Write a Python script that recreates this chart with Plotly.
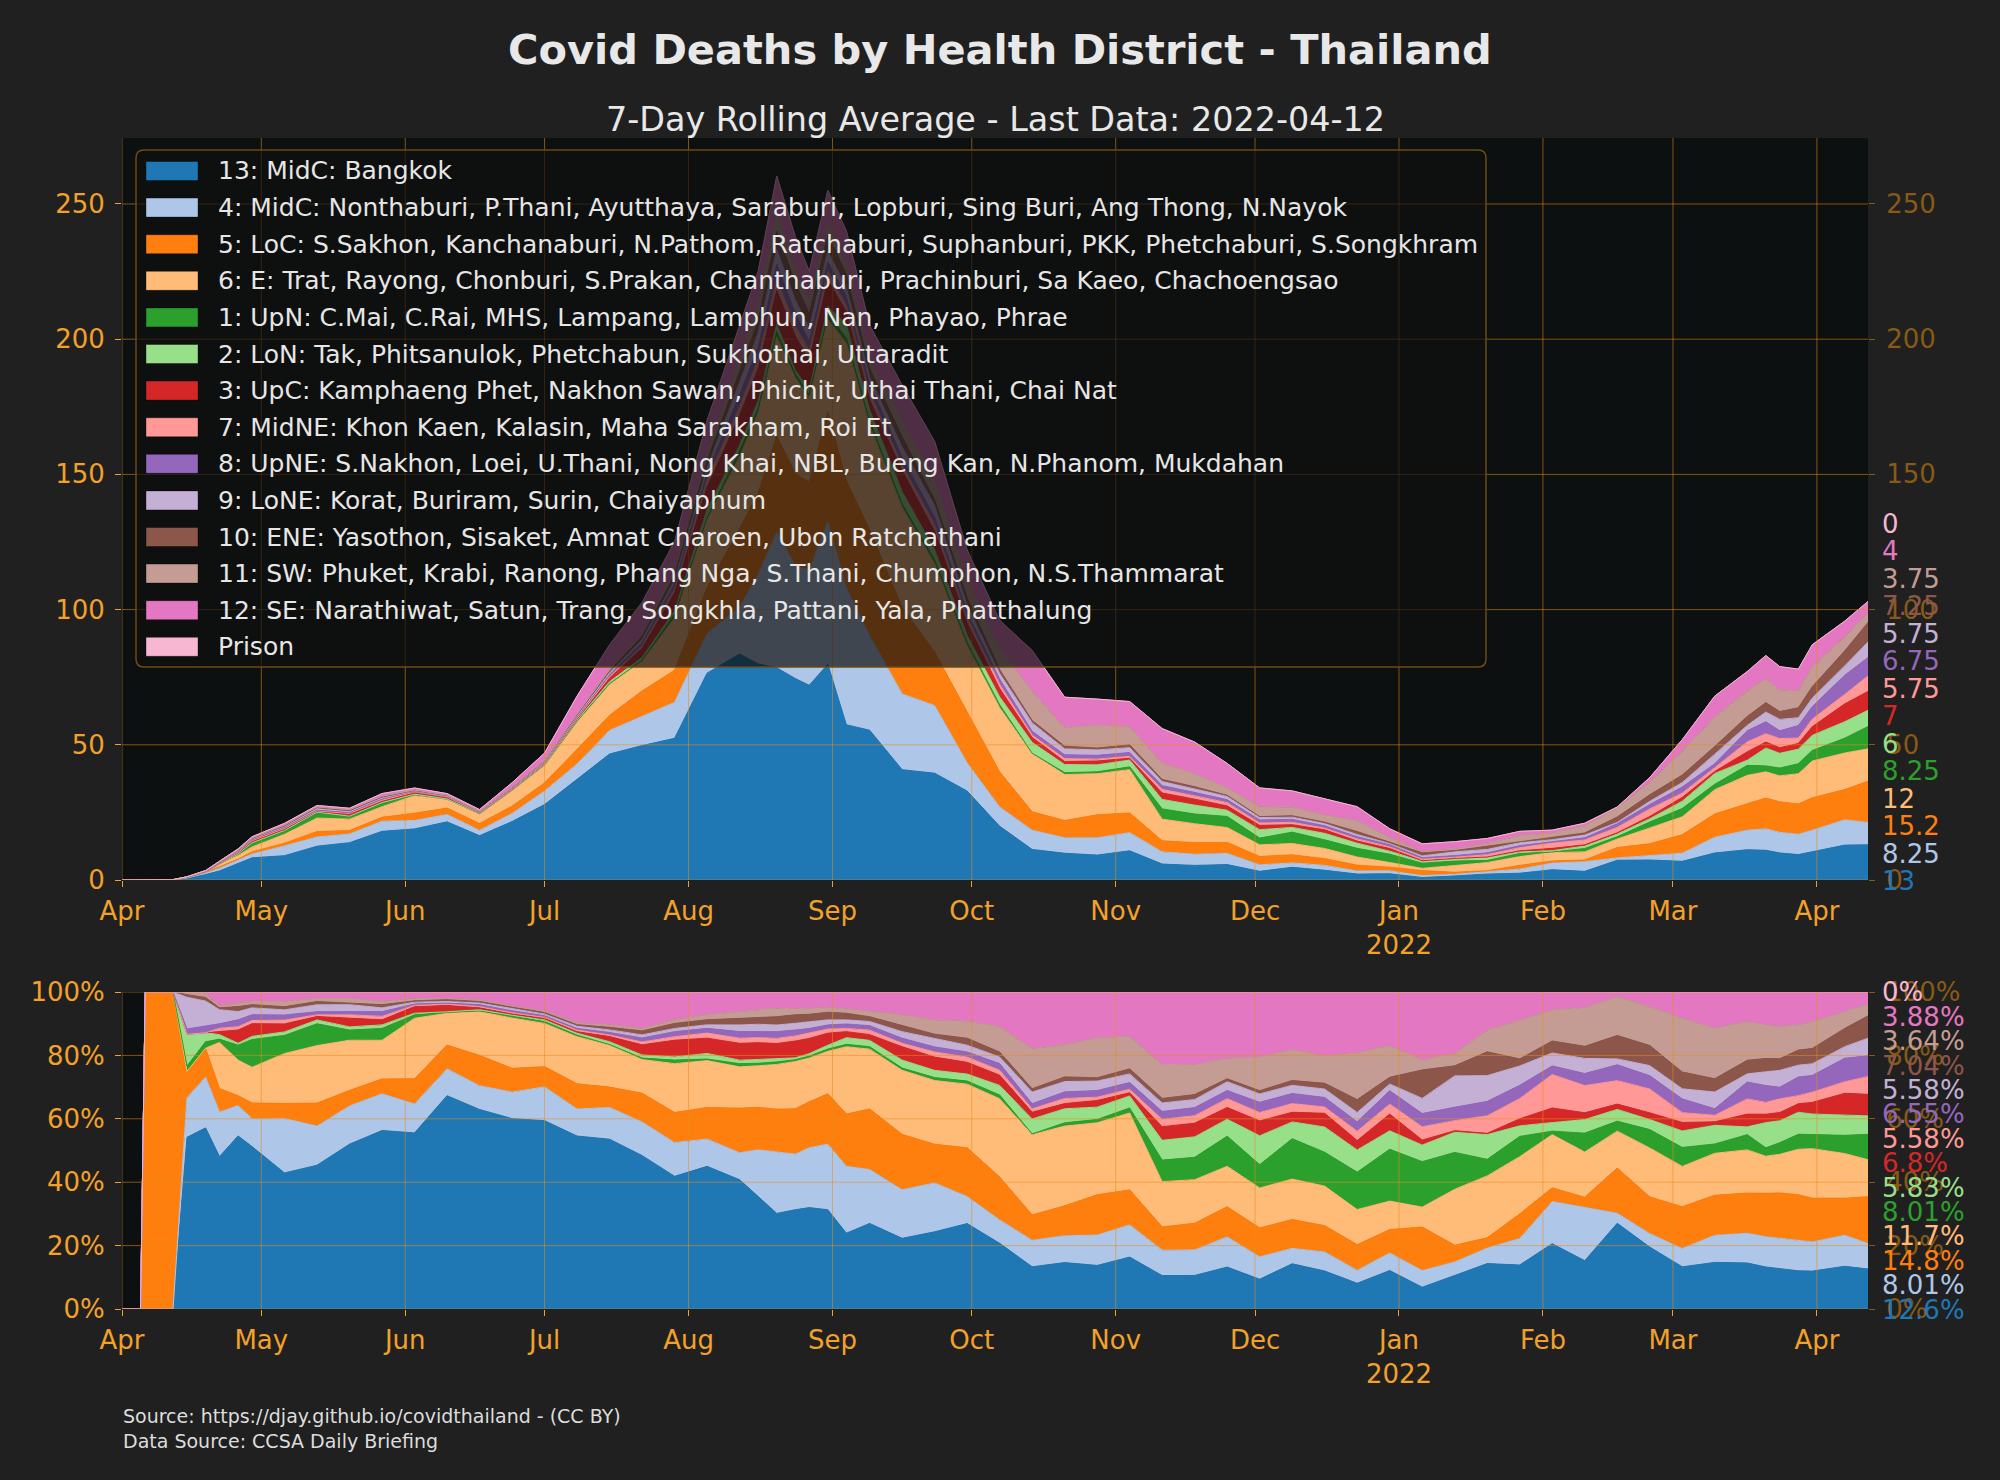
import plotly.graph_objects as go

# ---------------- data ----------------
dates = [
    "2021-04-01", "2021-04-05", "2021-04-06", "2021-04-12", "2021-04-15", "2021-04-19",
    "2021-04-22", "2021-04-26", "2021-04-29", "2021-05-06", "2021-05-13", "2021-05-20",
    "2021-05-27", "2021-06-03", "2021-06-10", "2021-06-17", "2021-06-24", "2021-07-01",
    "2021-07-08", "2021-07-15", "2021-07-22", "2021-07-29", "2021-08-05", "2021-08-12",
    "2021-08-16", "2021-08-20", "2021-08-24", "2021-08-27", "2021-08-31", "2021-09-04",
    "2021-09-09", "2021-09-16", "2021-09-23", "2021-09-30", "2021-10-07", "2021-10-14",
    "2021-10-21", "2021-10-28", "2021-11-04", "2021-11-11", "2021-11-18", "2021-11-25",
    "2021-12-02", "2021-12-09", "2021-12-16", "2021-12-23", "2021-12-30", "2022-01-06",
    "2022-01-13", "2022-01-20", "2022-01-27", "2022-02-03", "2022-02-10", "2022-02-17",
    "2022-02-24", "2022-03-03", "2022-03-10", "2022-03-17", "2022-03-21", "2022-03-24",
    "2022-03-28", "2022-03-31", "2022-04-07", "2022-04-12",
]

names = [
    "13: MidC: Bangkok",
    "4: MidC: Nonthaburi, P.Thani, Ayutthaya, Saraburi, Lopburi, Sing Buri, Ang Thong, N.Nayok",
    "5: LoC: S.Sakhon, Kanchanaburi, N.Pathom, Ratchaburi, Suphanburi, PKK, Phetchaburi, S.Songkhram",
    "6: E: Trat, Rayong, Chonburi, S.Prakan, Chanthaburi, Prachinburi, Sa Kaeo, Chachoengsao",
    "1: UpN: C.Mai, C.Rai, MHS, Lampang, Lamphun, Nan, Phayao, Phrae",
    "2: LoN: Tak, Phitsanulok, Phetchabun, Sukhothai, Uttaradit",
    "3: UpC: Kamphaeng Phet, Nakhon Sawan, Phichit, Uthai Thani, Chai Nat",
    "7: MidNE: Khon Kaen, Kalasin, Maha Sarakham, Roi Et",
    "8: UpNE: S.Nakhon, Loei, U.Thani, Nong Khai, NBL, Bueng Kan, N.Phanom, Mukdahan",
    "9: LoNE: Korat, Buriram, Surin, Chaiyaphum",
    "10: ENE: Yasothon, Sisaket, Amnat Charoen, Ubon Ratchathani",
    "11: SW: Phuket, Krabi, Ranong, Phang Nga, S.Thani, Chumphon, N.S.Thammarat",
    "12: SE: Narathiwat, Satun, Trang, Songkhla, Pattani, Yala, Phatthalung",
    "Prison",
]

colors = ["#1f77b4", "#aec7e8", "#ff7f0e", "#ffbb78", "#2ca02c", "#98df8a", "#d62728",
          "#ff9896", "#9467bd", "#c5b0d5", "#8c564b", "#c49c94", "#e377c2", "#f7b6d2"]

bangkok = [0, 0, 0, 0, 0.65, 2.0, 3.36, 6.28, 8.2, 9.0, 12.5, 13.8, 18.0, 18.9, 21.5, 16.4,
           21.6, 27.9, 37.1, 46.6, 49.7, 52.4, 76.5, 83.6, 79.9, 78.5, 74.5, 72.0, 79.8, 57.4,
           55.4, 40.8, 39.5, 32.9, 19.9, 11.3, 9.9, 9.2, 10.8, 5.9, 5.4, 5.7, 3.2, 4.7, 3.6,
           2.2, 2.3, 0.92, 1.5, 2.2, 2.5, 3.8, 3.2, 7.3, 7.4, 6.9, 10.0, 11.2, 11.0, 10.0,
           9.4, 10.4, 12.9, 13.0]
nonthaburi = [0, 0, 0, 0, 0.15, 0.56, 0.98, 1.1, 1.4, 3.6, 3.4, 3.2, 3.7, 3.1, 2.7, 1.95,
              3.0, 5.0, 5.8, 8.7, 10.9, 13.3, 14.6, 17.4, 33.1, 50.2, 41.7, 42.5, 52.8, 50.6,
              34.9, 28.0, 25.0, 10.4, 7.1, 7.1, 5.7, 6.4, 6.7, 4.5, 4.1, 4.1, 2.4, 1.6, 1.8,
              1.1, 1.05, 0.7, 0.6, 0.75, 1.5, 2.45, 3.55, 0.85, 1.6, 3.0, 5.8, 7.2, 7.9, 7.6,
              7.5, 8.0, 9.35, 8.25]
lower_central = [0, 0, 0.15, 0.15, 0.1, 0.32, 0.52, 0.36, 0.8, 1.0, 2.0, 1.3, 1.5, 2.7, 2.4,
                 2.5, 2.7, 3.0, 5.4, 5.6, 9.3, 11.9, 17.0, 28.9, 30.2, 35.4, 34.0, 32.6, 40.5,
                 39.6, 39.2, 32.0, 19.8, 18.8, 13.0, 6.8, 6.4, 8.5, 7.3, 4.1, 4.3, 4.1, 3.1,
                 3.0, 2.5, 2.2, 1.4, 1.84, 0.75, 0.5, 1.4, 0.8, 0.65, 3.85, 4.4, 6.85, 8.6, 9.8,
                 11.4, 11.3, 11.2, 12.0, 11.2, 15.25]
east = [0, 0, 0, 0, 0, 0, 1.02, 1.29, 1.8, 3.3, 5.0, 4.2, 3.9, 6.5, 3.2, 3.6, 5.7, 6.4, 10.1,
        11.5, 10.9, 19.3, 25.1, 26.7, 29.5, 36.7, 35.5, 31.1, 34.2, 50.9, 38.7, 37.0, 32.6,
        24.5, 23.7, 21.5, 17.0, 15.2, 16.0, 8.0, 7.0, 5.5, 4.3, 4.2, 3.75, 3.0, 1.7, 0.84,
        2.5, 3.0, 3.25, 3.1, 3.0, 3.15, 5.85, 6.6, 9.0, 10.5, 9.7, 9.6, 11.2, 13.6, 13.5, 12.0]
upper_north = [0, 0, 0, 0, 0.02, 0.07, 0.07, 0.54, 1.4, 1.2, 1.9, 0.85, 1.2, 0.37, 0.1, 0.05,
               0.22, 0.28, 0.34, 0.17, 0.5, 1.4, 0.85, 2.05, 1.8, 2.1, 1.4, 1.35, 1.8, 1.9,
               1.6, 1.3, 1.5, 1.2, 1.15, 0.2, 0.7, 0.7, 1.05, 3.8, 3.6, 4.1, 2.5, 4.2, 3.2,
               3.2, 3.1, 1.92, 1.65, 0.8, 1.15, 0.2, 1.25, 0.85, 2.2, 3.1, 2.0, 3.7, 2.2, 2.9,
               3.7, 3.9, 5.5, 8.25]
lower_north = [0, 0, 0, 0, 0.12, 0.1, 0.1, 0.07, 0.16, 0.23, 0.33, 0.27, 0.35, 0.17, 0.06,
               0.1, 0.11, 0.24, 0.41, 0.78, 1.0, 1.25, 3.0, 2.25, 2.7, 2.6, 1.4, 1.8, 3.1,
               5.0, 4.1, 4.6, 3.7, 2.7, 2.9, 4.0, 3.0, 2.6, 2.5, 3.5, 3.3, 2.3, 3.1, 1.75,
               2.4, 1.9, 1.1, 0.7, 0.9, 1.2, 0.6, 0.5, 0.9, 1.0, 1.2, 2.7, 4.0, 1.9, 6.6,
               5.45, 5.4, 5.6, 6.1, 6.0]
upper_central = [0, 0, 0, 0, 0, 0, 0.07, 0.48, 0.64, 0.53, 0.3, 0.72, 0.51, 0.71, 0.64, 0.16,
                 0.14, 0.24, 0.34, 1.4, 3.3, 6.6, 8.2, 10.9, 11.9, 12.5, 12.6, 10.8, 9.7,
                 4.6, 3.7, 7.7, 6.8, 4.5, 3.1, 1.8, 1.1, 1.4, 0.66, 2.4, 2.2, 1.6, 1.6, 1.0,
                 1.3, 0.8, 1.0, 0.21, 0.07, 0.06, 0.4, 0.85, 0.45, 0.45, 0.8, 1.4, 0.75, 3.1,
                 2.2, 2.05, 2.1, 3.2, 6.6, 7.0]
mid_ne = [0, 0, 0, 0, 0, 0, 0.07, 0.12, 0.16, 0.25, 0.14, 0.29, 0.35, 0.14, 0.13, 0.1, 0.14,
          0.14, 0.34, 0.44, 0.9, 1.4, 2.7, 3.3, 3.6, 4.2, 3.8, 3.6, 3.3, 2.4, 2.9, 2.0, 2.6,
          2.0, 1.5, 0.9, 1.1, 0.7, 0.73, 1.3, 1.2, 1.2, 0.9, 0.9, 0.6, 0.8, 0.6, 0.56, 0.45,
          0.85, 1.15, 1.95, 1.8, 2.0, 2.85, 1.6, 1.4, 3.7, 3.1, 3.4, 2.0, 2.8, 3.5, 5.75]
upper_ne = [0, 0, 0, 0, 0.02, 0.07, 0.1, 0.25, 0.29, 0.34, 0.28, 0.27, 0.48, 0.14, 0.1, 0.16,
            0.22, 0.24, 0.34, 0.7, 1.3, 2.0, 2.55, 4.3, 4.3, 5.5, 4.5, 3.4, 3.3, 3.4, 2.9,
            2.9, 2.6, 2.0, 2.0, 1.4, 1.4, 1.4, 1.4, 1.4, 1.3, 1.1, 1.1, 1.05, 0.9, 0.8, 0.8,
            0.56, 0.6, 0.7, 0.75, 0.5, 0.8, 1.35, 1.6, 2.25, 1.4, 4.1, 4.4, 2.9, 4.6, 4.6,
            7.1, 6.75]
lower_ne = [0, 0, 0, 0, 0.12, 0.28, 0.31, 0.3, 0.35, 0.34, 0.6, 0.58, 0.38, 0.2, 0.16, 0.13,
            0.25, 0.24, 0.48, 0.7, 1.0, 1.25, 1.9, 4.3, 5.2, 5.5, 5.0, 4.95, 4.1, 3.1, 2.7,
            3.8, 4.4, 2.6, 2.0, 3.1, 2.2, 2.0, 1.8, 1.5, 1.3, 1.2, 0.9, 0.85, 0.8, 0.8, 0.4,
            0.64, 1.4, 1.25, 1.1, 0.75, 1.0, 0.5, 1.2, 1.65, 3.6, 2.0, 3.6, 4.2, 2.9, 3.2,
            3.5, 5.75]
east_ne = [0, 0, 0, 0, 0.01, 0.04, 0.04, 0.18, 0.16, 0.21, 0.28, 0.13, 0.32, 0.14, 0.19, 0.13,
           0.14, 0.24, 0.34, 0.7, 1.3, 2.0, 2.7, 4.3, 4.7, 6.8, 6.4, 5.2, 6.1, 5.0, 3.1, 3.8,
           2.1, 2.7, 1.5, 0.9, 1.0, 0.7, 1.05, 0.8, 0.8, 0.4, 0.35, 0.5, 0.55, 1.1, 0.4, 1.2,
           0.45, 1.15, 0.4, 0.7, 0.8, 2.0, 2.4, 2.75, 2.85, 3.3, 3.5, 2.9, 3.7, 4.2, 5.5, 7.25]
south_west = [0, 0, 0, 0, 0.01, 0.04, 0.04, 0.13, 0.16, 0.34, 0.28, 0.4, 0.32, 0.24, 0.13,
              0.16, 0.14, 0.24, 0.41, 0.7, 0.8, 1.4, 2.7, 4.3, 5.6, 7.0, 4.5, 4.3, 3.8, 3.4,
              3.3, 5.9, 7.3, 6.5, 7.7, 10.8, 6.8, 8.5, 6.7, 6.0, 4.8, 2.8, 3.6, 3.2, 2.6, 4.0,
              1.9, 0.43, 0.55, 1.05, 2.2, 1.8, 2.55, 3.3, 4.65, 8.8, 10.8, 9.4, 8.8, 8.0, 6.2,
              7.4, 5.1, 3.75]
south_east = [0, 0, 0, 0, 0, 0.02, 0.31, 0.4, 0.48, 0.63, 0.55, 0.53, 0.96, 0.71, 0.64, 0.62,
              1.6, 2.8, 6.6, 9.0, 11.8, 11.0, 12.2, 12.7, 12.6, 13.3, 12.6, 11.5, 12.5, 12.7,
              12.7, 13.2, 14.3, 11.3, 10.5, 15.1, 11.3, 9.6, 9.3, 12.8, 11.7, 9.0, 7.0, 6.0,
              6.05, 5.2, 3.2, 2.86, 2.75, 1.85, 1.6, 1.05, 1.05, 0.4, 1.75, 4.3, 7.8, 7.2,
              8.6, 8.6, 8.1, 8.1, 5.9, 4.0]
prison = [0] * len(dates)

series = [bangkok, nonthaburi, lower_central, east, upper_north, lower_north, upper_central,
          mid_ne, upper_ne, lower_ne, east_ne, south_west, south_east, prison]

month_ticks = ["2021-04-01", "2021-05-01", "2021-06-01", "2021-07-01", "2021-08-01",
               "2021-09-01", "2021-10-01", "2021-11-01", "2021-12-01", "2022-01-01",
               "2022-02-01", "2022-03-01", "2022-04-01"]
month_labels = ["Apr", "May", "Jun", "Jul", "Aug", "Sep", "Oct", "Nov", "Dec",
                "Jan<br>2022", "Feb", "Mar", "Apr"]
top_ticks = [0, 50, 100, 150, 200, 250]
pct_ticks = [0, 20, 40, 60, 80, 100]
pct_labels = ["0%", "20%", "40%", "60%", "80%", "100%"]

title = "Covid Deaths by Health District - Thailand"
subtitle = "7-Day Rolling Average - Last Data: 2022-04-12"
source = "Source: https://djay.github.io/covidthailand - (CC BY)<br>Data Source: CCSA Daily Briefing"

# ---------------- style / layout ----------------
W, H = 2000, 1480
FONT = "DejaVu Sans"
ORANGE = "#f2a12a"
BROWN = "#875a16"
TEXT = "#e6e6e6"
GRID = "rgba(232,140,30,0.55)"
PAPER_BG = "#202020"
PLOT_BG = "#0c1010"

PL, PR = 122, 1868          # plot left/right (px)
TT, TB = 138, 880           # top chart top/bottom (px)
BT, BB = 992, 1309          # bottom chart top/bottom (px)
TOP_MAX = 274.4


def fx(px):
    return px / W


def fy(py):
    return 1 - py / H


fig = go.Figure()

for name, col, vals in zip(names, colors, series):
    fig.add_trace(go.Scatter(
        x=dates, y=vals, name=name, mode="lines", stackgroup="abs",
        line=dict(color=col, width=1), fillcolor=col,
        xaxis="x", yaxis="y", showlegend=False, hoverinfo="skip"))

for name, col, vals in zip(names, colors, series):
    fig.add_trace(go.Scatter(
        x=dates, y=vals, name=name, mode="lines", stackgroup="pct", groupnorm="percent",
        line=dict(color=col, width=1), fillcolor=col,
        xaxis="x2", yaxis="y3", showlegend=False, hoverinfo="skip"))

# invisible carriers so the mirrored right-hand axes are drawn
fig.add_trace(go.Scatter(x=dates, y=prison, xaxis="x", yaxis="y2", mode="lines",
                         line=dict(width=0), opacity=0, showlegend=False, hoverinfo="skip"))
fig.add_trace(go.Scatter(x=dates, y=prison, xaxis="x2", yaxis="y4", mode="lines",
                         line=dict(width=0), opacity=0, showlegend=False, hoverinfo="skip"))

tick_common = dict(showgrid=False, zeroline=False, showline=False, ticks="outside",
                   ticklen=6, tickwidth=1.2, automargin=False)
left_font = dict(family=FONT, size=26, color=ORANGE)
right_font = dict(family=FONT, size=26, color=BROWN)

xaxis_common = dict(range=[dates[0], dates[-1]], tickmode="array", tickvals=month_ticks,
                    ticktext=month_labels, tickfont=left_font, tickcolor=ORANGE,
                    ticklabelstandoff=2, **tick_common)

fig.update_layout(
    width=W, height=H, autosize=False,
    margin=dict(l=0, r=0, t=0, b=0, pad=0),
    paper_bgcolor=PAPER_BG, plot_bgcolor=PLOT_BG,
    font=dict(family=FONT, color=TEXT),
    showlegend=False,
    xaxis=dict(domain=[fx(PL), fx(PR)], anchor="y", **xaxis_common),
    xaxis2=dict(domain=[fx(PL), fx(PR)], anchor="y3", **xaxis_common),
    yaxis=dict(domain=[fy(TB), fy(TT)], anchor="x", range=[0, TOP_MAX], tickmode="array",
               tickvals=top_ticks, tickfont=left_font, tickcolor=ORANGE,
               ticklabelstandoff=5, **tick_common),
    yaxis2=dict(overlaying="y", side="right", anchor="x", range=[0, TOP_MAX],
                tickmode="array", tickvals=top_ticks, tickfont=right_font, tickcolor=BROWN,
                ticklabelstandoff=6, **tick_common),
    yaxis3=dict(domain=[fy(BB), fy(BT)], anchor="x2", range=[0, 100], tickmode="array",
                tickvals=pct_ticks, ticktext=pct_labels, tickfont=left_font,
                tickcolor=ORANGE, ticklabelstandoff=5, **tick_common),
    yaxis4=dict(overlaying="y3", side="right", anchor="x2", range=[0, 100], tickmode="array",
                tickvals=pct_ticks, ticktext=pct_labels, tickfont=right_font,
                tickcolor=BROWN, ticklabelstandoff=6, **tick_common),
)

# grid lines drawn above the areas (as in the reference)
shapes = []
for xr, yr in (("x", "y"), ("x2", "y3")):
    for t in month_ticks:
        shapes.append(dict(type="line", xref=xr, yref=yr + " domain", x0=t, x1=t, y0=0, y1=1,
                           line=dict(color=GRID, width=1), layer="above"))
for v in top_ticks:
    shapes.append(dict(type="line", xref="x domain", yref="y", x0=0, x1=1, y0=v, y1=v,
                       line=dict(color=GRID, width=1), layer="above"))
for v in pct_ticks:
    shapes.append(dict(type="line", xref="x2 domain", yref="y3", x0=0, x1=1, y0=v, y1=v,
                       line=dict(color=GRID, width=1), layer="above"))

# legend box (semi-transparent, rounded)
LX0, LX1, LY0, LY1, R = 136, 1486, 150, 667, 8
box = (f"M {fx(LX0 + R)},{fy(LY0)} L {fx(LX1 - R)},{fy(LY0)} "
       f"Q {fx(LX1)},{fy(LY0)} {fx(LX1)},{fy(LY0 + R)} L {fx(LX1)},{fy(LY1 - R)} "
       f"Q {fx(LX1)},{fy(LY1)} {fx(LX1 - R)},{fy(LY1)} L {fx(LX0 + R)},{fy(LY1)} "
       f"Q {fx(LX0)},{fy(LY1)} {fx(LX0)},{fy(LY1 - R)} L {fx(LX0)},{fy(LY0 + R)} "
       f"Q {fx(LX0)},{fy(LY0)} {fx(LX0 + R)},{fy(LY0)} Z")
shapes.append(dict(type="path", xref="paper", yref="paper", path=box,
                   fillcolor="rgba(16,16,16,0.70)", line=dict(color="#6e4a16", width=1.5),
                   layer="above"))

annotations = []
ITEM0, ITEM_STEP = 171, 36.6
for i, (name, col) in enumerate(zip(names, colors)):
    cy = ITEM0 + i * ITEM_STEP
    shapes.append(dict(type="rect", xref="paper", yref="paper",
                       x0=fx(146), x1=fx(198), y0=fy(cy + 9.5), y1=fy(cy - 9.5),
                       fillcolor=col, line=dict(color="rgba(0,0,0,0.35)", width=1),
                       layer="above"))
    annotations.append(dict(xref="paper", yref="paper", x=fx(216), y=fy(cy), text=name,
                            showarrow=False, xanchor="left", yanchor="middle",
                            font=dict(family=FONT, size=25, color=TEXT)))

# end-value labels on the right
total_last = sum(s[-1] for s in series)
for i, (col, vals) in enumerate(zip(colors, series)):
    annotations.append(dict(xref="paper", yref="paper", x=fx(1880), y=fy(881 - i * 27.5),
                            text=f"{vals[-1]:.3g}", showarrow=False, xanchor="left",
                            yanchor="middle", font=dict(family=FONT, size=26, color=col)))
    annotations.append(dict(xref="paper", yref="paper", x=fx(1880), y=fy(1309.5 - i * 24.4),
                            text=f"{100 * vals[-1] / total_last:.3g}%", showarrow=False,
                            xanchor="left", yanchor="middle",
                            font=dict(family=FONT, size=26, color=col)))

annotations.append(dict(xref="paper", yref="paper", x=0.5, y=fy(49), text=f"<b>{title}</b>",
                        showarrow=False, xanchor="center", yanchor="middle",
                        font=dict(family=FONT, size=41.5, color="#e8e8e8")))
annotations.append(dict(xref="paper", yref="paper", x=0.4975, y=fy(119), text=subtitle,
                        showarrow=False, xanchor="center", yanchor="middle",
                        font=dict(family=FONT, size=33.4, color="#e8e8e8")))
annotations.append(dict(xref="paper", yref="paper", x=fx(121), y=fy(1403), text=source,
                        showarrow=False, xanchor="left", yanchor="top", align="left",
                        font=dict(family=FONT, size=19, color="#dddddd")))

fig.update_layout(shapes=shapes, annotations=annotations)

fig.write_html(
    "out.html",
    config={"displayModeBar": False},
    post_script="document.body.style.margin='0px';"
                "document.body.style.background='#202020';"
                "document.body.style.overflow='hidden';",
)
